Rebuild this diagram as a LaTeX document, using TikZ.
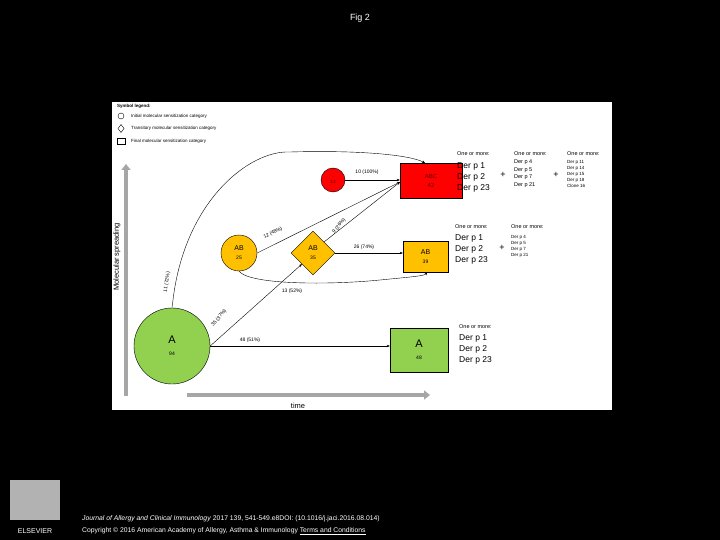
\documentclass[tikz,border=0pt]{standalone}
\usepackage{fontspec}
\setmainfont{Liberation Sans}
\usetikzlibrary{shapes.geometric,arrows.meta}
\definecolor{orng}{HTML}{FFC000}
\definecolor{grn}{HTML}{92D050}
\definecolor{rd}{HTML}{FF0000}
\tikzset{
 lbl/.style={font=\fontsize{5}{6}\selectfont,inner sep=0.5pt},
 flow/.style={draw=black,line width=0.4pt,-{Stealth[length=3pt,width=2.5pt]}},
 grr/.style={font=\fontsize{5.5}{6}\selectfont,align=left,anchor=north west,inner sep=0},
 big/.style={font=\fontsize{8.5}{11}\selectfont,align=left,anchor=north west,inner sep=0},
 sml/.style={font=\fontsize{4.5}{6}\selectfont,align=left,anchor=north west,inner sep=0},
}
\begin{document}
\begin{tikzpicture}[x=1pt,y=-1pt]
\fill[black] (0,0) rectangle (720,540);
\useasboundingbox (0,0) rectangle (720,540);
\fill[white] (112,102) rectangle (612,410);
\node[white,font=\fontsize{9}{10}\selectfont] (title) at (360,18) {Fig 2};
% legend
\node[anchor=west,font=\fontsize{4.5}{5}\selectfont\bfseries,inner sep=0] (lg) at (117,106) {Symbol legend:};
\draw[line width=0.4pt] (121,116) circle (3);
\node[anchor=west,font=\fontsize{4.5}{5}\selectfont,inner sep=0] (l1) at (131,116) {Initial molecular sensitization category};
\draw[line width=0.4pt] (121,124.5) -- (124,128.5) -- (121,132.5) -- (118,128.5) -- cycle;
\node[anchor=west,font=\fontsize{4.5}{5}\selectfont,inner sep=0] (l2) at (131,128.5) {Transitory molecular sensitization category};
\draw[line width=0.4pt] (117,138) rectangle (125,144);
\node[anchor=west,font=\fontsize{4.5}{5}\selectfont,inner sep=0] (l3) at (131,141) {Final molecular sensitization category};
% axes
\draw[line width=4pt,draw=gray!70,-{Triangle[length=6pt,width=9pt]}] (126,396) -- (126,164);
\node[rotate=90,font=\fontsize{7.5}{8}\selectfont] (ms) at (117,257) {Molecular spreading};
\draw[line width=4pt,draw=gray!70,-{Triangle[length=6pt,width=9pt]}] (187,395) -- (430,395);
\node[font=\fontsize{7.5}{8}\selectfont] (tm) at (298,406) {time};
% nodes
\node[circle,draw,fill=rd,minimum size=24,inner sep=0,align=center,font=\fontsize{4.5}{5}\selectfont,text=black!60!red] (rc) at (333,180) {-\\13};
\node[draw,fill=rd,minimum width=62,minimum height=35,inner sep=0,align=center,font=\fontsize{6}{9}\selectfont,text=black!60!red] (abc) at (431,180.5) {ABC\\42};
\node[circle,draw,fill=orng,minimum size=36,inner sep=0,align=center,font=\fontsize{7}{10}\selectfont] (abc1) at (239,253) {AB\\[-1pt]{\fontsize{5}{6}\selectfont 25}};
\node[diamond,draw,fill=orng,minimum width=44,minimum height=44,inner sep=0,align=center,font=\fontsize{7}{10}\selectfont] (abd) at (313,253) {AB\\[-1pt]{\fontsize{5}{6}\selectfont 35}};
\node[draw,fill=orng,minimum width=45,minimum height=31,inner sep=0,align=center,font=\fontsize{7}{10}\selectfont] (abr) at (425.5,256.5) {AB\\[-1pt]{\fontsize{5}{6}\selectfont 39}};
\node[circle,draw,fill=grn,minimum size=76,inner sep=0,align=center,font=\fontsize{11}{14}\selectfont] (ac) at (172,346) {A\\[-2pt]{\fontsize{5}{6}\selectfont 94}};
\node[draw,fill=grn,minimum width=58,minimum height=44,inner sep=0,align=center,font=\fontsize{11}{14}\selectfont] (ar) at (419,350) {A\\[-2pt]{\fontsize{5}{6}\selectfont 48}};
% connectors
\coordinate (abctop) at (425,163);
\draw[flow] (ac.north) -- (173,300) .. controls (185,200) and (250,150) .. (290,152) .. controls (360,150) and (410,155) .. (abctop);
\node[lbl,rotate=82] (t1) at (167,282) {11 (72\%)};
\draw[flow] (rc.east) -- (abc.west |- rc.east);
\node[lbl] (t2) at (367,172) {10 (100\%)};
\coordinate (abcin) at (400,182);
\draw[flow] (abc1.east) -- (abcin);
\node[lbl,rotate=27] (t3) at (273,233) {12 (48\%)};
\draw[flow] (abd.north east) -- (abcin);
\node[lbl,rotate=50] (t4) at (339,226) {9 (26\%)};
\draw[flow] (abd.east) -- (abr.west |- abd.east);
\node[lbl] (t5) at (364,247) {26 (74\%)};
\coordinate (abrb) at (427,272);
\draw[flow] (abc1.south) .. controls (250,285) and (330,285) .. (380,280) .. controls (410,277) and (425,276) .. (abrb);
\node[lbl] (t6) at (292,291) {13 (52\%)};
\draw[flow] (ac.east) -- (abd.south west);
\node[lbl,rotate=50] (t7) at (219,318) {35 (37\%)};
\draw[flow] (ac.east) -- (ar.west |- ac.east);
\node[lbl] (t8) at (250,340) {48 (51\%)};
% lists
\node[grr] (o1) at (457,151) {One or more:};
\node[big] (d1) at (457,162) {Der p 1\\Der p 2\\Der p 23};
\node[font=\fontsize{9}{9}\selectfont] (p1) at (503,175) {+};
\node[grr] (o2) at (514,151) {One or more:};
\node[sml,font=\fontsize{5.5}{7.5}\selectfont] (d2) at (514,160) {Der p 4\\Der p 5\\Der p 7\\Der p 21};
\node[font=\fontsize{9}{9}\selectfont] (p2) at (556,175) {+};
\node[grr] (o3) at (567,151) {One or more:};
\node[sml] (d3) at (567,160) {Der p 11\\Der p 14\\Der p 15\\Der p 18\\Clone 16};
\node[grr] (o4) at (455,224) {One or more:};
\node[big] (d4) at (455,234) {Der p 1\\Der p 2\\Der p 23};
\node[font=\fontsize{9}{9}\selectfont] (p3) at (502,248) {+};
\node[grr] (o5) at (511,224) {One or more:};
\node[sml] (d5) at (511,235) {Der p 4\\Der p 5\\Der p 7\\Der p 21};
\node[grr] (o6) at (459,324) {One or more:};
\node[big] (d6) at (459,334) {Der p 1\\Der p 2\\Der p 23};
% footer
\fill[gray!60] (10,480) rectangle (60,520);
\node[white,font=\fontsize{7}{8}\selectfont] (els) at (35,531) {ELSEVIER};
\node[white,anchor=west,font=\fontsize{6.8}{8}\selectfont,inner sep=0] (f1) at (82,519) {\textit{Journal of Allergy and Clinical Immunology} 2017 139, 541-549.e8DOI: (10.1016/j.jaci.2016.08.014)};
\node[white,anchor=west,font=\fontsize{6.8}{8}\selectfont,inner sep=0] (f2) at (82,531) {Copyright © 2016 American Academy of Allergy, Asthma \& Immunology \underline{Terms and Conditions}};
\end{tikzpicture}
\end{document}
